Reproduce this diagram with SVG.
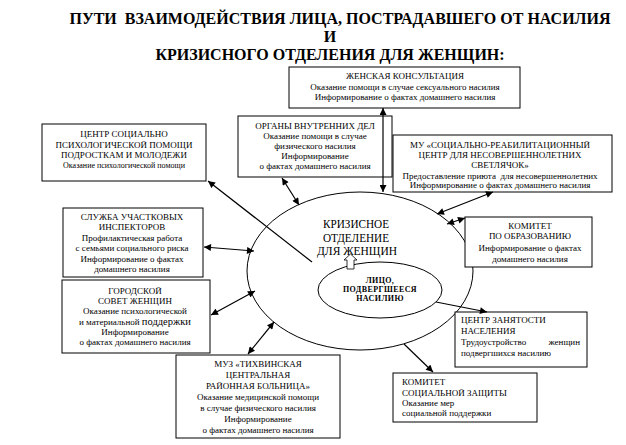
<svg xmlns="http://www.w3.org/2000/svg" width="626" height="445" viewBox="0 0 626 445">
<defs>
<marker id="ah" viewBox="0 0 10 10" refX="10" refY="5" markerWidth="8" markerHeight="7" markerUnits="userSpaceOnUse" orient="auto-start-reverse"><path d="M0,0 L10,5 L0,10 z" fill="#000"/></marker>
</defs>
<rect width="626" height="445" fill="#fff"/>
<g id="title" font-family="Liberation Serif" font-size="16" font-weight="bold" text-anchor="middle">
<text x="340" y="24" xml:space="preserve">ПУТИ  ВЗАИМОДЕЙСТВИЯ ЛИЦА, ПОСТРАДАВШЕГО ОТ НАСИЛИЯ</text>
<text x="330" y="42">И</text>
<text x="330" y="60">КРИЗИСНОГО ОТДЕЛЕНИЯ ДЛЯ ЖЕНЩИН:</text>
</g>
<g id="crisis" font-family="Liberation Serif" font-size="13" text-anchor="middle">
<ellipse cx="360" cy="271" rx="113" ry="79" fill="#fff" stroke="#000" stroke-width="1"/>
<text x="356" y="228" textLength="66" lengthAdjust="spacingAndGlyphs">КРИЗИСНОЕ</text>
<text x="356" y="241.5" textLength="66" lengthAdjust="spacingAndGlyphs">ОТДЕЛЕНИЕ</text>
<text x="357" y="255" textLength="80" lengthAdjust="spacingAndGlyphs">ДЛЯ ЖЕНЩИН</text>
</g>
<g id="victim" font-family="Liberation Serif" font-size="8" font-weight="bold" text-anchor="middle" letter-spacing="0.4">
<ellipse cx="380" cy="290" rx="62" ry="28" fill="#fff" stroke="#000" stroke-width="1"/>
<text x="380" y="283">ЛИЦО,</text>
<text x="380" y="292">ПОДВЕРГШЕЕСЯ</text>
<text x="380" y="301">НАСИЛИЮ</text>
</g>
<g id="zhk" font-family="Liberation Serif" font-size="9" text-anchor="middle">
<rect x="289" y="67" width="231" height="41" fill="#fff" stroke="#000" stroke-width="1"/>
<text x="405" y="79">ЖЕНСКАЯ КОНСУЛЬТАЦИЯ</text>
<text x="405" y="90">Оказание помощи в случае сексуального насилия</text>
<text x="405" y="100">Информирование о фактах домашнего насилия</text>
</g>
<g id="cspp" font-family="Liberation Serif" font-size="9" text-anchor="middle">
<rect x="42" y="124" width="164" height="57" fill="#fff" stroke="#000" stroke-width="1"/>
<text x="124" y="137">ЦЕНТР СОЦИАЛЬНО</text>
<text x="124" y="148">ПСИХОЛОГИЧЕСКОЙ ПОМОЩИ</text>
<text x="124" y="158">ПОДРОСТКАМ И МОЛОДЕЖИ</text>
<text x="124" y="168" font-size="8">Оказание психологической помощи</text>
</g>
<g id="ovd" font-family="Liberation Serif" font-size="9" text-anchor="middle">
<rect x="238" y="116" width="154" height="61" fill="#fff" stroke="#000" stroke-width="1"/>
<text x="315" y="129">ОРГАНЫ ВНУТРЕННИХ ДЕЛ</text>
<text x="315" y="139">Оказание помощи в случае</text>
<text x="315" y="149">физического насилия</text>
<text x="315" y="159">Информирование</text>
<text x="315" y="169">о фактах домашнего насилия</text>
</g>
<g id="svetlyachok" font-family="Liberation Serif" font-size="9" text-anchor="middle">
<rect x="393" y="135" width="219" height="57" fill="#fff" stroke="#000" stroke-width="1"/>
<text x="500" y="148">МУ «СОЦИАЛЬНО-РЕАБИЛИТАЦИОННЫЙ</text>
<text x="500" y="158">ЦЕНТР ДЛЯ НЕСОВЕРШЕННОЛЕТНИХ</text>
<text x="500" y="168">СВЕТЛЯЧОК»</text>
<text x="500" y="179" xml:space="preserve">Предоставление приюта  для несовершеннолетних</text>
<text x="500" y="188">Информирование о фактах домашнего насилия</text>
</g>
<g id="uchastkovye" font-family="Liberation Serif" font-size="9" text-anchor="middle">
<rect x="63" y="208" width="140" height="69" fill="#fff" stroke="#000" stroke-width="1"/>
<text x="132" y="220">СЛУЖБА УЧАСТКОВЫХ</text>
<text x="132" y="230">ИНСПЕКТОРОВ</text>
<text x="132" y="241">Профилактическая работа</text>
<text x="132" y="251">с семьями социального риска</text>
<text x="132" y="262">Информирование о фактах</text>
<text x="132" y="272">домашнего насилия</text>
</g>
<g id="sovet" font-family="Liberation Serif" font-size="9" text-anchor="middle">
<rect x="62" y="280" width="148" height="73" fill="#fff" stroke="#000" stroke-width="1"/>
<text x="135" y="294">ГОРОДСКОЙ</text>
<text x="135" y="304">СОВЕТ ЖЕНЩИН</text>
<text x="135" y="314">Оказание психологической</text>
<text x="135" y="325">и материальной <tspan font-size="10.5">поддержки</tspan></text>
<text x="135" y="335">Информирование</text>
<text x="135" y="345">о фактах домашнего насилия</text>
</g>
<g id="obrazovanie" font-family="Liberation Serif" font-size="9" text-anchor="middle">
<rect x="465" y="217" width="127" height="50" fill="#fff" stroke="#000" stroke-width="1"/>
<text x="530" y="229">КОМИТЕТ</text>
<text x="530" y="239">ПО ОБРАЗОВАНИЮ</text>
<text x="530" y="251">Информирование о фактах</text>
<text x="530" y="262">домашнего насилия</text>
</g>
<g id="zanyatost" font-family="Liberation Serif" font-size="9">
<rect x="455" y="312" width="132" height="55" fill="#fff" stroke="#000" stroke-width="1"/>
<text x="461" y="323">ЦЕНТР ЗАНЯТОСТИ</text>
<text x="461" y="334">НАСЕЛЕНИЯ</text>
<text x="461" y="345">Трудоустройство</text>
<text x="580" y="345" text-anchor="end">женщин</text>
<text x="461" y="356">подвергшихся насилию</text>
</g>
<g id="bolnitsa" font-family="Liberation Serif" font-size="9" text-anchor="middle">
<rect x="176" y="355" width="164" height="83" fill="#fff" stroke="#000" stroke-width="1"/>
<text x="258" y="367">МУЗ «ТИХВИНСКАЯ</text>
<text x="258" y="378">ЦЕНТРАЛЬНАЯ</text>
<text x="258" y="389">РАЙОННАЯ БОЛЬНИЦА»</text>
<text x="258" y="400">Оказание медицинской помощи</text>
<text x="258" y="411">в случае физического насилия</text>
<text x="258" y="422">Информирование</text>
<text x="258" y="433">о фактах домашнего насилия</text>
</g>
<g id="soczashita" font-family="Liberation Serif" font-size="9">
<rect x="393" y="373" width="144" height="49" fill="#fff" stroke="#000" stroke-width="1"/>
<text x="402" y="385">КОМИТЕТ</text>
<text x="402" y="396">СОЦИАЛЬНОЙ ЗАЩИТЫ</text>
<text x="402" y="406">Оказание мер</text>
<text x="402" y="416">социальной поддержки</text>
</g>
<g id="connectors" fill="none" stroke="#000" stroke-width="1.2">
<path d="M350.5,254 L357,260 L354,260 L354,269 L347,269 L347,260 L344,260 Z" fill="#fff" stroke="#000" stroke-width="0.8"/>
<line x1="383" y1="108" x2="383" y2="192" marker-start="url(#ah)" marker-end="url(#ah)"/>
<line x1="282" y1="178" x2="299" y2="205" marker-start="url(#ah)" marker-end="url(#ah)"/>
<line x1="208" y1="181" x2="312" y2="262" marker-start="url(#ah)"/>
<line x1="437" y1="214" x2="493" y2="192" marker-start="url(#ah)" marker-end="url(#ah)"/>
<line x1="447" y1="224" x2="465" y2="218" marker-start="url(#ah)" marker-end="url(#ah)"/>
<line x1="204" y1="247" x2="254" y2="251" marker-start="url(#ah)" marker-end="url(#ah)"/>
<line x1="211" y1="315" x2="255" y2="291" marker-start="url(#ah)" marker-end="url(#ah)"/>
<line x1="248" y1="354" x2="274" y2="322" marker-start="url(#ah)" marker-end="url(#ah)"/>
<line x1="404" y1="344" x2="433" y2="372" marker-end="url(#ah)"/>
<line x1="436" y1="302" x2="487" y2="312" marker-end="url(#ah)"/>
</g>
</svg>
